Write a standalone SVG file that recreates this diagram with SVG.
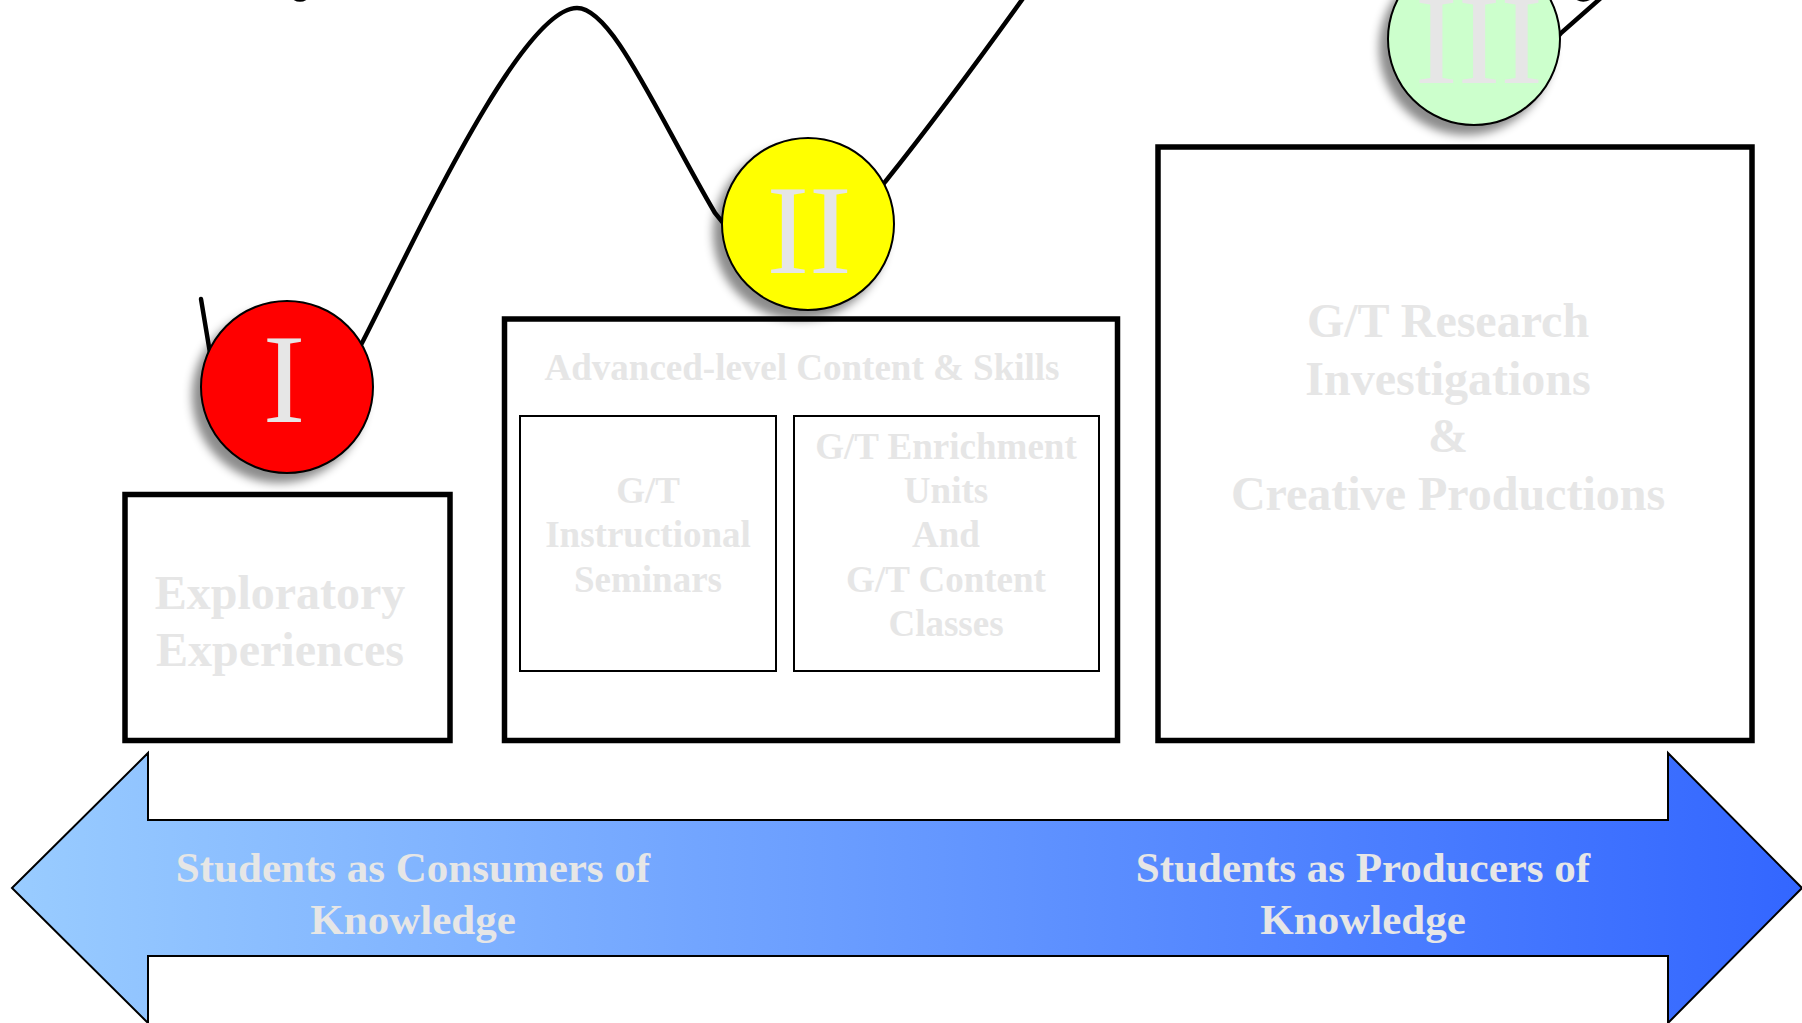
<svg xmlns="http://www.w3.org/2000/svg" width="1802" height="1023" viewBox="0 0 1802 1023">
<defs>
<linearGradient id="arrowGrad" gradientUnits="userSpaceOnUse" x1="12" y1="0" x2="1802" y2="0">
<stop offset="0" stop-color="#99CCFF"/>
<stop offset="1" stop-color="#3366FF"/>
</linearGradient>
<filter id="shadow" x="-30%" y="-30%" width="160%" height="160%">
<feDropShadow dx="-8" dy="9" stdDeviation="5" flood-color="#000" flood-opacity="0.45"/>
</filter>
</defs>
<style>
.box{fill:#fff;stroke:#000;stroke-width:5.5}
.inner{fill:#fff;stroke:#000;stroke-width:2}
.lbl{font-family:"Liberation Serif","Times New Roman",serif;font-weight:bold;fill:#e6e6e6;text-anchor:middle}
.big{font-size:48px}
.mid{font-size:37px}
.arr{font-size:43px}
.num{font-family:"Liberation Serif","Times New Roman",serif;font-size:128px;fill:#e6e6e6;text-anchor:middle}
.ball{stroke:#000;stroke-width:2}
.curve{fill:none;stroke:#000;stroke-width:4.5;stroke-linecap:round}
</style>

<g id="axis-arrow">
<polygon points="12,888 148,753 148,820 1668,820 1668,753 1802,888 1668,1023 1668,956 148,956 148,1023" fill="url(#arrowGrad)" stroke="#000" stroke-width="2"/>
<text class="lbl arr" x="413" y="882">Students as Consumers of</text>
<text class="lbl arr" x="413" y="934">Knowledge</text>
<text class="lbl arr" x="1363" y="882">Students as Producers of</text>
<text class="lbl arr" x="1363" y="934">Knowledge</text>
</g>

<g id="exploratory">
<rect class="box" x="125" y="494.5" width="325" height="246"/>
<text class="lbl big" x="280" y="609">Exploratory</text>
<text class="lbl big" x="280" y="666">Experiences</text>
</g>

<g id="advanced">
<rect class="box" x="504.5" y="319" width="613" height="421.5"/>
<text class="lbl mid" x="802" y="380">Advanced-level Content &amp; Skills</text>
</g>

<g id="seminars">
<rect class="inner" x="520" y="416" width="256" height="255"/>
<text class="lbl mid" x="648" y="503">G/T</text>
<text class="lbl mid" x="648" y="547">Instructional</text>
<text class="lbl mid" x="648" y="592">Seminars</text>
</g>

<g id="enrichment">
<rect class="inner" x="794" y="416" width="305" height="255"/>
<text class="lbl mid" x="946" y="459">G/T Enrichment</text>
<text class="lbl mid" x="946" y="503">Units</text>
<text class="lbl mid" x="946" y="547">And</text>
<text class="lbl mid" x="946" y="592">G/T Content</text>
<text class="lbl mid" x="946" y="636">Classes</text>
</g>

<g id="research">
<rect class="box" x="1158" y="147" width="594" height="593.5"/>
<text class="lbl big" x="1448" y="337">G/T Research</text>
<text class="lbl big" x="1448" y="395">Investigations</text>
<text class="lbl big" x="1448" y="452">&amp;</text>
<text class="lbl big" x="1448" y="510">Creative Productions</text>
</g>

<g id="connectors">
<path class="curve" d="M201,299 L212,365"/>
<path class="curve" d="M330,400 L362,343 C410,250 520,8 577,8 C612,8 655,110 715,213 L745,250"/>
<path class="curve" d="M860,215 L885,182 Q945,107 1024,-3"/>
<path class="curve" d="M1530,70 L1561,33 L1602,-3"/>
<path class="curve" d="M292,-4 Q300,3 308,-4"/>
<path class="curve" d="M1575,-4 Q1583,3 1592,-4"/>
</g>

<g id="stage-1">
<circle class="ball" cx="287" cy="387" r="86" fill="#FF0000" filter="url(#shadow)"/>
<text class="num" x="284" y="422">I</text>
</g>

<g id="stage-2">
<circle class="ball" cx="808" cy="224" r="86" fill="#FFFF00" filter="url(#shadow)"/>
<text class="num" x="809" y="273">II</text>
</g>

<g id="stage-3">
<circle class="ball" cx="1474" cy="39" r="86" fill="#CCFFCC" filter="url(#shadow)"/>
<text class="num" x="1479" y="83">III</text>
</g>
</svg>
